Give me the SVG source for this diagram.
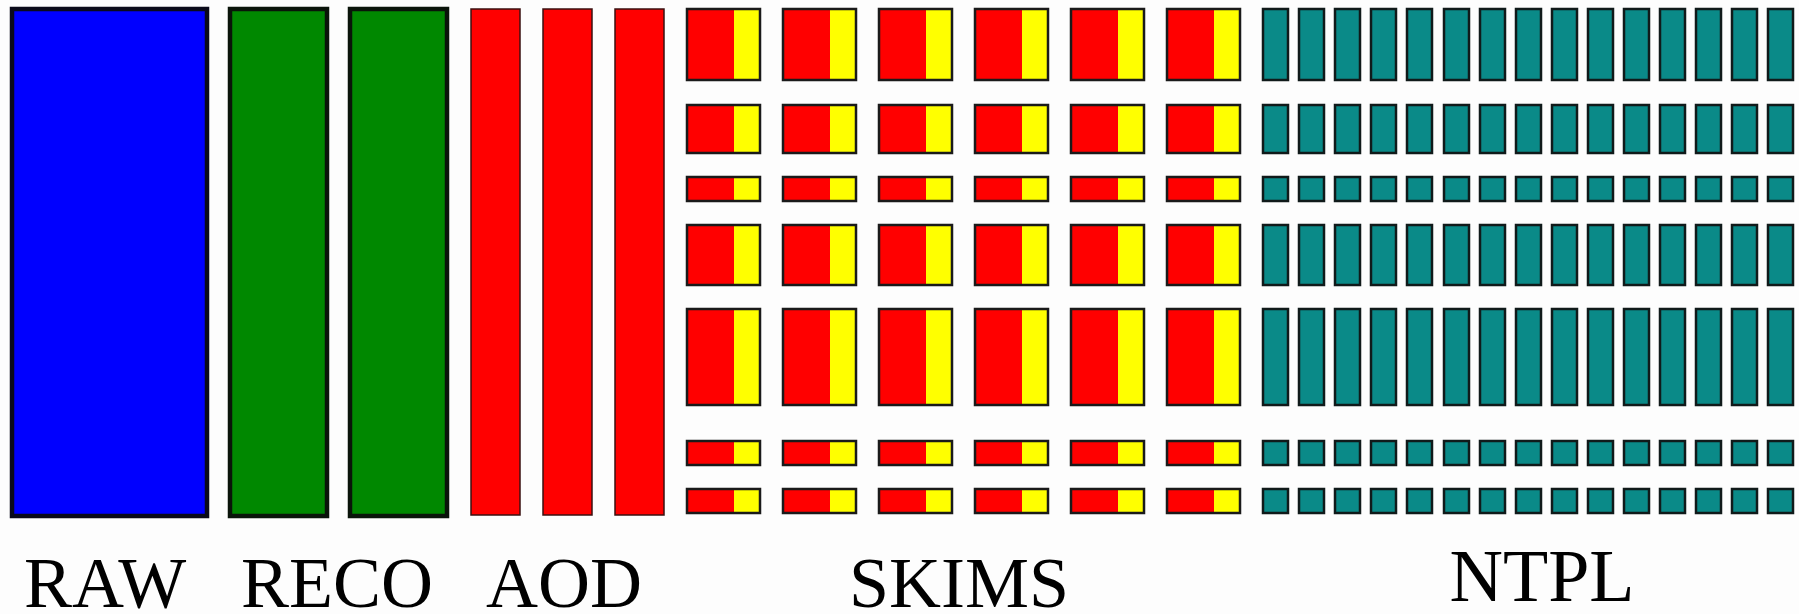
<svg xmlns="http://www.w3.org/2000/svg" width="1799" height="614" viewBox="0 0 1799 614">
<defs>
<linearGradient id="ry" x1="0" y1="0" x2="1" y2="0">
<stop offset="0" stop-color="#ff0000"/><stop offset="0.644" stop-color="#ff0000"/><stop offset="0.644" stop-color="#ffff00"/><stop offset="1" stop-color="#ffff00"/>
</linearGradient>
</defs>
<style>
.raw{fill:#0000ff;stroke:#0a0a1a;stroke-width:4.5}
.reco{fill:#008800;stroke:#0a140a;stroke-width:4.5}
.aod{fill:#ff0000;stroke:#3a1010;stroke-width:1.5}
.sk{fill:url(#ry);stroke:#1a1a1a;stroke-width:2.5}
.nt{fill:#0a8a88;stroke:#101a1a;stroke-width:2.5}
.lbl{font-family:"Liberation Serif","Times New Roman",serif;font-size:72px;fill:#000;text-anchor:middle}
</style>
<rect width="1799" height="614" fill="#fdfdfd"/>
<g id="raw"><rect class="raw" x="12" y="9" width="195" height="507"/></g>
<g id="reco1"><rect class="reco" x="230" y="9" width="97" height="507"/></g>
<g id="reco2"><rect class="reco" x="350" y="9" width="97" height="507"/></g>
<g id="aod1"><rect class="aod" x="471" y="9" width="49" height="506"/></g>
<g id="aod2"><rect class="aod" x="543" y="9" width="49" height="506"/></g>
<g id="aod3"><rect class="aod" x="615" y="9" width="49" height="506"/></g>
<g id="skims">
<g id="skims-c1"><rect class="sk" x="687" y="9" width="73" height="71"/><rect class="sk" x="687" y="105" width="73" height="48"/><rect class="sk" x="687" y="177" width="73" height="24"/><rect class="sk" x="687" y="225" width="73" height="60"/><rect class="sk" x="687" y="309" width="73" height="96"/><rect class="sk" x="687" y="441" width="73" height="24"/><rect class="sk" x="687" y="489" width="73" height="24"/></g>
<g id="skims-c2"><rect class="sk" x="783" y="9" width="73" height="71"/><rect class="sk" x="783" y="105" width="73" height="48"/><rect class="sk" x="783" y="177" width="73" height="24"/><rect class="sk" x="783" y="225" width="73" height="60"/><rect class="sk" x="783" y="309" width="73" height="96"/><rect class="sk" x="783" y="441" width="73" height="24"/><rect class="sk" x="783" y="489" width="73" height="24"/></g>
<g id="skims-c3"><rect class="sk" x="879" y="9" width="73" height="71"/><rect class="sk" x="879" y="105" width="73" height="48"/><rect class="sk" x="879" y="177" width="73" height="24"/><rect class="sk" x="879" y="225" width="73" height="60"/><rect class="sk" x="879" y="309" width="73" height="96"/><rect class="sk" x="879" y="441" width="73" height="24"/><rect class="sk" x="879" y="489" width="73" height="24"/></g>
<g id="skims-c4"><rect class="sk" x="975" y="9" width="73" height="71"/><rect class="sk" x="975" y="105" width="73" height="48"/><rect class="sk" x="975" y="177" width="73" height="24"/><rect class="sk" x="975" y="225" width="73" height="60"/><rect class="sk" x="975" y="309" width="73" height="96"/><rect class="sk" x="975" y="441" width="73" height="24"/><rect class="sk" x="975" y="489" width="73" height="24"/></g>
<g id="skims-c5"><rect class="sk" x="1071" y="9" width="73" height="71"/><rect class="sk" x="1071" y="105" width="73" height="48"/><rect class="sk" x="1071" y="177" width="73" height="24"/><rect class="sk" x="1071" y="225" width="73" height="60"/><rect class="sk" x="1071" y="309" width="73" height="96"/><rect class="sk" x="1071" y="441" width="73" height="24"/><rect class="sk" x="1071" y="489" width="73" height="24"/></g>
<g id="skims-c6"><rect class="sk" x="1167" y="9" width="73" height="71"/><rect class="sk" x="1167" y="105" width="73" height="48"/><rect class="sk" x="1167" y="177" width="73" height="24"/><rect class="sk" x="1167" y="225" width="73" height="60"/><rect class="sk" x="1167" y="309" width="73" height="96"/><rect class="sk" x="1167" y="441" width="73" height="24"/><rect class="sk" x="1167" y="489" width="73" height="24"/></g>
</g>
<g id="ntpl">
<g id="ntpl-c1"><rect class="nt" x="1263" y="9" width="25" height="71"/><rect class="nt" x="1263" y="105" width="25" height="48"/><rect class="nt" x="1263" y="177" width="25" height="24"/><rect class="nt" x="1263" y="225" width="25" height="60"/><rect class="nt" x="1263" y="309" width="25" height="96"/><rect class="nt" x="1263" y="441" width="25" height="24"/><rect class="nt" x="1263" y="489" width="25" height="24"/></g>
<g id="ntpl-c2"><rect class="nt" x="1299" y="9" width="25" height="71"/><rect class="nt" x="1299" y="105" width="25" height="48"/><rect class="nt" x="1299" y="177" width="25" height="24"/><rect class="nt" x="1299" y="225" width="25" height="60"/><rect class="nt" x="1299" y="309" width="25" height="96"/><rect class="nt" x="1299" y="441" width="25" height="24"/><rect class="nt" x="1299" y="489" width="25" height="24"/></g>
<g id="ntpl-c3"><rect class="nt" x="1335" y="9" width="25" height="71"/><rect class="nt" x="1335" y="105" width="25" height="48"/><rect class="nt" x="1335" y="177" width="25" height="24"/><rect class="nt" x="1335" y="225" width="25" height="60"/><rect class="nt" x="1335" y="309" width="25" height="96"/><rect class="nt" x="1335" y="441" width="25" height="24"/><rect class="nt" x="1335" y="489" width="25" height="24"/></g>
<g id="ntpl-c4"><rect class="nt" x="1371" y="9" width="25" height="71"/><rect class="nt" x="1371" y="105" width="25" height="48"/><rect class="nt" x="1371" y="177" width="25" height="24"/><rect class="nt" x="1371" y="225" width="25" height="60"/><rect class="nt" x="1371" y="309" width="25" height="96"/><rect class="nt" x="1371" y="441" width="25" height="24"/><rect class="nt" x="1371" y="489" width="25" height="24"/></g>
<g id="ntpl-c5"><rect class="nt" x="1407" y="9" width="25" height="71"/><rect class="nt" x="1407" y="105" width="25" height="48"/><rect class="nt" x="1407" y="177" width="25" height="24"/><rect class="nt" x="1407" y="225" width="25" height="60"/><rect class="nt" x="1407" y="309" width="25" height="96"/><rect class="nt" x="1407" y="441" width="25" height="24"/><rect class="nt" x="1407" y="489" width="25" height="24"/></g>
<g id="ntpl-c6"><rect class="nt" x="1444" y="9" width="25" height="71"/><rect class="nt" x="1444" y="105" width="25" height="48"/><rect class="nt" x="1444" y="177" width="25" height="24"/><rect class="nt" x="1444" y="225" width="25" height="60"/><rect class="nt" x="1444" y="309" width="25" height="96"/><rect class="nt" x="1444" y="441" width="25" height="24"/><rect class="nt" x="1444" y="489" width="25" height="24"/></g>
<g id="ntpl-c7"><rect class="nt" x="1480" y="9" width="25" height="71"/><rect class="nt" x="1480" y="105" width="25" height="48"/><rect class="nt" x="1480" y="177" width="25" height="24"/><rect class="nt" x="1480" y="225" width="25" height="60"/><rect class="nt" x="1480" y="309" width="25" height="96"/><rect class="nt" x="1480" y="441" width="25" height="24"/><rect class="nt" x="1480" y="489" width="25" height="24"/></g>
<g id="ntpl-c8"><rect class="nt" x="1516" y="9" width="25" height="71"/><rect class="nt" x="1516" y="105" width="25" height="48"/><rect class="nt" x="1516" y="177" width="25" height="24"/><rect class="nt" x="1516" y="225" width="25" height="60"/><rect class="nt" x="1516" y="309" width="25" height="96"/><rect class="nt" x="1516" y="441" width="25" height="24"/><rect class="nt" x="1516" y="489" width="25" height="24"/></g>
<g id="ntpl-c9"><rect class="nt" x="1552" y="9" width="25" height="71"/><rect class="nt" x="1552" y="105" width="25" height="48"/><rect class="nt" x="1552" y="177" width="25" height="24"/><rect class="nt" x="1552" y="225" width="25" height="60"/><rect class="nt" x="1552" y="309" width="25" height="96"/><rect class="nt" x="1552" y="441" width="25" height="24"/><rect class="nt" x="1552" y="489" width="25" height="24"/></g>
<g id="ntpl-c10"><rect class="nt" x="1588" y="9" width="25" height="71"/><rect class="nt" x="1588" y="105" width="25" height="48"/><rect class="nt" x="1588" y="177" width="25" height="24"/><rect class="nt" x="1588" y="225" width="25" height="60"/><rect class="nt" x="1588" y="309" width="25" height="96"/><rect class="nt" x="1588" y="441" width="25" height="24"/><rect class="nt" x="1588" y="489" width="25" height="24"/></g>
<g id="ntpl-c11"><rect class="nt" x="1624" y="9" width="25" height="71"/><rect class="nt" x="1624" y="105" width="25" height="48"/><rect class="nt" x="1624" y="177" width="25" height="24"/><rect class="nt" x="1624" y="225" width="25" height="60"/><rect class="nt" x="1624" y="309" width="25" height="96"/><rect class="nt" x="1624" y="441" width="25" height="24"/><rect class="nt" x="1624" y="489" width="25" height="24"/></g>
<g id="ntpl-c12"><rect class="nt" x="1660" y="9" width="25" height="71"/><rect class="nt" x="1660" y="105" width="25" height="48"/><rect class="nt" x="1660" y="177" width="25" height="24"/><rect class="nt" x="1660" y="225" width="25" height="60"/><rect class="nt" x="1660" y="309" width="25" height="96"/><rect class="nt" x="1660" y="441" width="25" height="24"/><rect class="nt" x="1660" y="489" width="25" height="24"/></g>
<g id="ntpl-c13"><rect class="nt" x="1696" y="9" width="25" height="71"/><rect class="nt" x="1696" y="105" width="25" height="48"/><rect class="nt" x="1696" y="177" width="25" height="24"/><rect class="nt" x="1696" y="225" width="25" height="60"/><rect class="nt" x="1696" y="309" width="25" height="96"/><rect class="nt" x="1696" y="441" width="25" height="24"/><rect class="nt" x="1696" y="489" width="25" height="24"/></g>
<g id="ntpl-c14"><rect class="nt" x="1732" y="9" width="25" height="71"/><rect class="nt" x="1732" y="105" width="25" height="48"/><rect class="nt" x="1732" y="177" width="25" height="24"/><rect class="nt" x="1732" y="225" width="25" height="60"/><rect class="nt" x="1732" y="309" width="25" height="96"/><rect class="nt" x="1732" y="441" width="25" height="24"/><rect class="nt" x="1732" y="489" width="25" height="24"/></g>
<g id="ntpl-c15"><rect class="nt" x="1768" y="9" width="25" height="71"/><rect class="nt" x="1768" y="105" width="25" height="48"/><rect class="nt" x="1768" y="177" width="25" height="24"/><rect class="nt" x="1768" y="225" width="25" height="60"/><rect class="nt" x="1768" y="309" width="25" height="96"/><rect class="nt" x="1768" y="441" width="25" height="24"/><rect class="nt" x="1768" y="489" width="25" height="24"/></g>
</g>
<g id="connectors"></g>
<g id="labels">
<text class="lbl" x="105" y="607">RAW</text>
<text class="lbl" x="337" y="607">RECO</text>
<text class="lbl" x="564" y="607">AOD</text>
<text class="lbl" x="959" y="607">SKIMS</text>
<text class="lbl" x="1542" y="601" style="font-size:74px">NTPL</text>
</g>
</svg>
